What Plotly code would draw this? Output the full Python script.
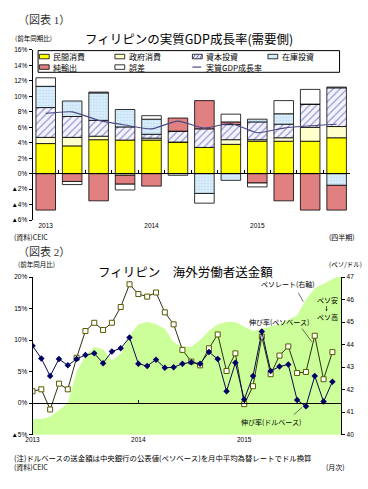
import plotly.graph_objects as go

# ---------------- Chart 1 data (quarterly, % yoy contribution) ----------------
quarters = ["2013Q1", "2013Q2", "2013Q3", "2013Q4",
            "2014Q1", "2014Q2", "2014Q3", "2014Q4",
            "2015Q1", "2015Q2", "2015Q3", "2015Q4"]
private_cons = [3.9, 3.6, 4.4, 4.35, 4.35, 4.1, 3.4, 3.8, 4.2, 4.2, 4.2, 4.65]
gov_cons = [0.8, 1.1, 0.45, -0.2, 0.25, 0.0, 0.0, 0.6, 0.2, 0.45, 1.8, 1.45]
capital_inv = [3.85, 2.7, 2.05, 1.7, 0.5, 1.4, 2.4, 1.95, 2.3, 1.75, 3.0, 5.0]
inventory = [2.75, 2.0, 3.55, 2.25, 1.95, 0.0, -2.55, -0.85, 0.35, 1.35, 0.0, -1.5]
net_exports = [-4.7, -1.0, -3.5, -1.15, -1.6, 1.7, 3.65, 0.35, -1.2, -3.5, -4.7, -3.2]
discrepancy = [1.1, -0.4, 0.1, -0.75, 0.45, -0.2, -1.25, 1.0, -0.5, 1.7, 1.9, 0.1]
gdp_growth = [7.8, 8.0, 6.9, 6.3, 5.8, 6.8, 5.9, 6.5, 5.3, 5.9, 6.2, 6.4]
y1_ticks = [-6, -4, -2, 0, 2, 4, 6, 8, 10, 12, 14, 16]
y1_ticktext = ["▲6%", "▲4%", "▲2%", "0%", "2%", "4%", "6%", "8%", "10%", "12%", "14%", "16%"]

# ---------------- Chart 2 data (monthly) ----------------
months = [f"{y}-{m:02d}" for y in (2013, 2014, 2015) for m in range(1, 13)]
dollar_growth = [9.1, 7.1, 4.3, 7.0, 6.0, 7.0, 7.65, 7.9, 6.35, 8.2, 8.7, 10.4,
                 6.25, 5.9, 6.9, 5.6, 5.7, 6.25, 6.5, 6.25, 8.1, 7.0, 1.9, 6.4,
                 0.6, 4.3, 11.35, 5.1, 5.8, 6.15, 0.5, -0.5, 4.3, 0.25, 3.4]
peso_growth = [1.9, 2.2, -1.0, 3.1, 2.2, 7.2, 11.45, 12.75, 11.6, 12.75, 15.25, 18.85,
               17.3, 16.9, 17.55, 14.4, 12.5, 8.45, 6.6, 6.0, 8.7, 10.9, 5.1, 7.9,
               -0.15, 2.7, 10.55, 4.6, 7.55, 9.0, 4.8, 4.95, 10.7, 3.8, 8.1]
peso_rate = [40.7, 40.7, 40.8, 41.1, 41.4, 42.8, 43.5, 43.9, 43.8, 43.3, 43.6, 44.4,
             44.9, 45.0, 44.9, 44.7, 44.1, 43.9, 43.9, 44.2, 44.6, 44.9, 45.0, 45.0,
             44.8, 44.6, 44.7, 44.8, 44.9, 45.1, 45.3, 46.0, 46.5, 46.7, 46.9, 47.1]
y2_ticks = [-5, 0, 5, 10, 15, 20]
y2_ticktext = ["▲5%", "0%", "5%", "10%", "15%", "20%"]
rate_ticks = [40, 41, 42, 43, 44, 45, 46, 47]

W, H = 368, 489
JP = "Noto Sans CJK JP"
NUM = "Liberation Sans, Noto Sans CJK JP"
SERIF = "Liberation Serif, Noto Sans CJK JP"


def px(x):
    return x / W


def py(y):
    return 1 - y / H


qx = list(range(len(quarters)))
mx = list(range(len(months)))
year_idx_q = [i for i, q in enumerate(quarters) if q.endswith("Q1")]
year_lab_q = [quarters[i][:4] for i in year_idx_q]
year_idx_m = [i for i, m in enumerate(months) if m.endswith("-01")]
year_lab_m = [months[i][:4] for i in year_idx_m]

fig = go.Figure()

outline = dict(color="black", width=0.8)
bar_specs = [
    ("民間消費", private_cons, dict(color="#FFFF00", line=outline)),
    ("政府消費", gov_cons, dict(color="#FFFFCC", line=outline)),
    ("資本投資", capital_inv, dict(color="white", line=outline,
                               pattern=dict(shape="/", fgcolor="#3A3AA0", bgcolor="#F4F4FF",
                                            size=5, solidity=0.25))),
    ("在庫投資", inventory, dict(color="#D2EAFA", line=outline,
                               pattern=dict(shape=".", fgcolor="#9CC4E6", bgcolor="#DDF0FC",
                                            size=3, solidity=0.35))),
    ("純輸出", net_exports, dict(color="#E08080", line=outline)),
    ("誤差", discrepancy, dict(color="white", line=outline)),
]
for name, vals, mk in bar_specs:
    fig.add_trace(go.Bar(x=qx, y=vals, name=name, marker=mk, width=0.74,
                         xaxis="x", yaxis="y", showlegend=False))

fig.add_trace(go.Scatter(x=qx, y=gdp_growth, mode="lines", name="実質GDP成長率",
                         line=dict(color="#4A4A85", width=1.1, shape="spline", smoothing=0.6),
                         xaxis="x", yaxis="y", showlegend=False))
# helper trace for zero-line axis of chart 1
fig.add_trace(go.Scatter(x=[0], y=[0], mode="markers", marker=dict(opacity=0),
                         xaxis="x3", yaxis="y", showlegend=False, hoverinfo="skip"))

# chart 2
fig.add_trace(go.Scatter(x=list(range(len(peso_rate))), y=peso_rate, mode="lines",
                         fill="tozeroy", fillcolor="#CCFF99", line=dict(width=0, color="#CCFF99"),
                         xaxis="x2", yaxis="y2", showlegend=False, name="ペソレート(右軸)"))
fig.add_trace(go.Scatter(x=mx[:len(peso_growth)], y=peso_growth, mode="lines+markers",
                         line=dict(color="#2E2E14", width=1),
                         marker=dict(symbol="square", size=5, color="white",
                                     line=dict(color="#5A5A00", width=1)),
                         xaxis="x2", yaxis="y3", showlegend=False, name="伸び率(ペソベース)"))
fig.add_trace(go.Scatter(x=mx[:len(dollar_growth)], y=dollar_growth, mode="lines+markers",
                         line=dict(color="#0A0A50", width=1),
                         marker=dict(symbol="diamond", size=5, color="#000066"),
                         xaxis="x2", yaxis="y3", showlegend=False, name="伸び率(ドルベース)"))
fig.add_trace(go.Scatter(x=[0], y=[0], mode="markers", marker=dict(opacity=0),
                         xaxis="x4", yaxis="y3", showlegend=False, hoverinfo="skip"))

tickf = dict(family=NUM, size=6.5, color="black")
x1_dom = [px(26), px(349.5)]
x2_dom = [px(26), px(340.7)]

fig.update_layout(
    width=W, height=H, margin=dict(l=0, r=0, t=0, b=0),
    paper_bgcolor="white", plot_bgcolor="white",
    barmode="relative", showlegend=False,
    xaxis=dict(domain=x1_dom, range=[-0.5, 11.5], anchor="y", tickvals=year_idx_q,
               ticktext=year_lab_q, ticks="", showline=False, showgrid=False,
               zeroline=False, tickfont=tickf),
    xaxis3=dict(overlaying="x", anchor="free", position=py(171.7), range=[-0.5, 11.5],
                tickvals=[i + 0.5 for i in qx[:-1]], ticks="inside", ticklen=3,
                tickcolor="black", showticklabels=False, showline=True,
                linecolor="black", linewidth=1, showgrid=False, zeroline=False),
    yaxis=dict(domain=[py(219.3), py(46.6)], range=[-6, 16], anchor="x",
               tickvals=y1_ticks, ticktext=y1_ticktext, ticks="outside", ticklen=3,
               tickcolor="black", showline=True, linecolor="black", linewidth=1,
               showgrid=False, zeroline=False, tickfont=tickf),
    xaxis2=dict(domain=x2_dom, range=[0, 35], anchor="y2", tickvals=year_idx_m,
                ticktext=year_lab_m, ticks="", showline=False, showgrid=False,
                zeroline=False, tickfont=tickf),
    xaxis4=dict(overlaying="x2", anchor="free", position=py(405.3), range=[0, 35],
                tickvals=year_idx_m[1:], ticks="inside", ticklen=3, tickcolor="black",
                showticklabels=False, showline=True, linecolor="black", linewidth=1,
                showgrid=False, zeroline=False),
    yaxis2=dict(domain=[py(437), py(277)], range=[40, 47], anchor="x2", side="right",
                tickvals=rate_ticks, ticks="outside", ticklen=3, tickcolor="black",
                showline=True, linecolor="black", linewidth=1, showgrid=False,
                zeroline=False, tickfont=tickf),
    yaxis3=dict(overlaying="y2", anchor="x2", side="left", range=[-5, 20],
                tickvals=y2_ticks, ticktext=y2_ticktext, ticks="outside", ticklen=3,
                tickcolor="black", showline=True, linecolor="black", linewidth=1,
                showgrid=False, zeroline=False, tickfont=tickf),
)

anns = []


def ann(text, x, y, size, xanchor="center", family=JP, color="black"):
    anns.append(dict(text=text, x=px(x), y=py(y), xref="paper", yref="paper",
                     xanchor=xanchor, yanchor="middle", showarrow=False,
                     font=dict(family=family, size=size, color=color)))


# chart 1 texts
ann("（図表 1）", 9, 16.5, 11, "left", SERIF, "#333333")
ann("(前年同期比)", 27, 34, 6.5)
ann("フィリピンの実質GDP成長率(需要側)", 186, 35, 12.5)
ann("(資料)CEIC", 5, 236.7, 7, "left")
ann("(四半期)", 341, 236.7, 7)

# manual legend for chart 1
shapes = []
shapes.append(dict(type="rect", xref="paper", yref="paper", x0=px(31.7), x1=px(339),
                   y0=py(69.3), y1=py(47.3), line=dict(color="black", width=1),
                   fillcolor="white", layer="above"))
leg_cols = [33, 110, 189, 266]
leg_rows = [53.3, 64]
leg_items = [
    ("民間消費", "#FFFF00", None), ("政府消費", "#FFFFCC", None),
    ("資本投資", "#F4F4FF", "hatch"), ("在庫投資", "#D2EAFA", None),
    ("純輸出", "#E08080", None), ("誤差", "white", None),
    ("実質GDP成長率", None, "line"),
]
for k, (label, col, kind) in enumerate(leg_items):
    cx = leg_cols[k % 4]
    cy = leg_rows[k // 4]
    if kind == "line":
        shapes.append(dict(type="line", xref="paper", yref="paper", x0=px(cx), x1=px(cx + 9),
                           y0=py(cy), y1=py(cy), line=dict(color="#4A4A85", width=1.2),
                           layer="above"))
    else:
        shapes.append(dict(type="rect", xref="paper", yref="paper", x0=px(cx), x1=px(cx + 10),
                           y0=py(cy + 2.3), y1=py(cy - 2.3), fillcolor=col,
                           line=dict(color="black", width=0.8), layer="above"))
        if kind == "hatch":
            for d in (0, 3.5, 7):
                shapes.append(dict(type="line", xref="paper", yref="paper",
                                   x0=px(cx + d + 0.5), x1=px(cx + d + 3),
                                   y0=py(cy + 2), y1=py(cy - 2),
                                   line=dict(color="#3A3AA0", width=0.8), layer="above"))
    ann(label, cx + 12, cy, 8, "left")

# chart 2 texts
ann("（図表 2）", 9, 251.5, 11, "left", SERIF, "#333333")
ann("(前年同月比)", 30, 264, 6.5)
ann("(ペソ/ドル)", 345, 264, 6.5)
ann("フィリピン　海外労働者送金額", 182, 271, 12.5)
ann("ペソレート(右軸)", 286, 284, 7)
ann("ペソ安", 327, 300, 7)
ann("ペソ高", 327, 317.5, 7)
ann("伸び率(ペソベース)", 277, 323, 7)
ann("伸び率(ドルベース)", 269, 424.3, 7)
ann("(注)ドルベースの送金額は中央銀行の公表値(ペソベース)を月中平均為替レートでドル換算",
    5, 460, 7.4, "left")
ann("(資料)CEIC", 5, 469.5, 7, "left")
ann("(月次)", 335, 469.5, 7)

for (x0, y0, x1, y1) in [(297, 293, 302, 302), (300.7, 329.3, 310.7, 342.7),
                         (292.3, 416.7, 300.7, 409.3)]:
    shapes.append(dict(type="line", xref="paper", yref="paper", x0=px(x0), y0=py(y0),
                       x1=px(x1), y1=py(y1), line=dict(color="#333333", width=0.7)))

anns.append(dict(text="", x=px(325.7), y=py(312), xref="paper", yref="paper",
                 ax=0, ay=-7, axref="pixel", ayref="pixel",
                 showarrow=True, arrowhead=2, arrowsize=0.6, arrowwidth=0.8,
                 arrowcolor="#333333"))

fig.update_layout(annotations=anns, shapes=shapes)
fig.write_html("out.html", config={"displayModeBar": False},
               post_script="document.body.style.margin='0px';document.body.style.padding='0px';document.body.style.overflow='hidden';")
